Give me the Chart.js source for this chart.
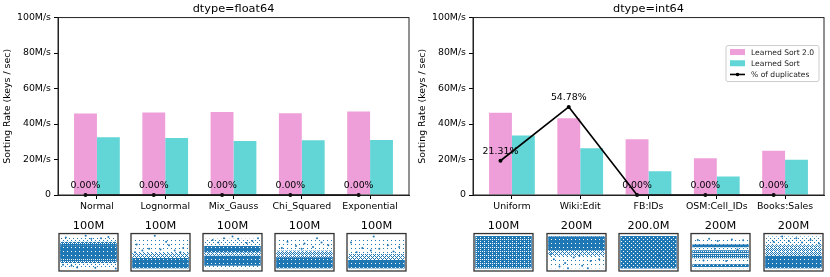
<!DOCTYPE html>
<html>
<head>
<meta charset="utf-8">
<script src="https://cdn.jsdelivr.net/npm/chart.js@4.4.0/dist/chart.umd.min.js"></script>
<style>
  body { margin: 0; background: #fff; }
  #wrap { position: relative; width: 830px; height: 277px; }
  #wrap canvas { position: absolute; }
</style>
</head>
<body>
<div id="wrap"></div>
<script>
// float64 panel
let floatLabels = ['Normal', 'Lognormal', 'Mix_Gauss', 'Chi_Squared', 'Exponential'];
let floatLS2 = [45.9, 46.5, 46.8, 46.1, 47.0];
let floatLS = [32.6, 32.1, 30.4, 30.8, 31.0];
let floatDup = [0, 0, 0, 0, 0];
let floatSizes = ['100M', '100M', '100M', '100M', '100M'];

// int64 panel
let intLabels = ['Uniform', 'Wiki:Edit', 'FB:IDs', 'OSM:Cell_IDs', 'Books:Sales'];
let intLS2 = [46.3, 43.3, 31.4, 20.7, 25.0];
let intLS = [33.6, 26.3, 13.4, 10.4, 19.9];
let intDup = [21.31, 54.78, 0, 0, 0];
let intSizes = ['100M', '200M', '200.0M', '200M', '200M'];

let yTicks = [0, 20, 40, 60, 80, 100];

// key distributions in the thumbnails: [low, high, density] bands (normalised key range)
let floatBands = [
  [[0.06, 0.92, 0.1], [0.2, 0.8, 0.65], [0.3, 0.7, 0.88]],
  [[0.05, 0.85, 0.06], [0.05, 0.48, 0.35], [0.05, 0.34, 0.88]],
  [[0.05, 0.88, 0.08], [0.5, 0.68, 0.88], [0.12, 0.4, 0.88], [0.4, 0.5, 0.35]],
  [[0.05, 0.85, 0.06], [0.05, 0.55, 0.4], [0.05, 0.35, 0.88]],
  [[0.05, 0.85, 0.06], [0.05, 0.45, 0.35], [0.05, 0.28, 0.88]]
];
let intBands = [
  [[0.04, 0.96, 0.8]],
  [[0.05, 0.95, 0.06], [0.4, 0.95, 0.35], [0.56, 0.95, 0.88]],
  [[0.04, 0.96, 0.85]],
  [[0.05, 0.9, 0.06], [0.64, 0.72, 0.88], [0.33, 0.45, 0.75], [0.47, 0.56, 0.75], [0.08, 0.16, 0.8]],
  [[0.05, 0.95, 0.1], [0.05, 0.7, 0.38], [0.05, 0.4, 0.88]]
];
// scattered outlier keys per thumbnail: [x, y]
let floatOutliers = [
  [[0.1, 0.92], [0.45, 0.97], [0.72, 0.9], [0.98, 0.04], [0.3, 0.07], [0.62, 0.06], [0.85, 0.93], [0.2, 0.12], [0.55, 0.88], [0.05, 0.15]],
  [[0.4, 0.97], [0.08, 0.72], [0.65, 0.7], [0.9, 0.62], [0.3, 0.6], [0.75, 0.55], [0.18, 0.55], [0.5, 0.58], [0.85, 0.5], [0.05, 0.5], [0.6, 0.8]],
  [[0.15, 0.85], [0.35, 0.9], [0.6, 0.88], [0.85, 0.82], [0.5, 0.95], [0.25, 0.78], [0.75, 0.76], [0.95, 0.9]],
  [[0.2, 0.8], [0.5, 0.75], [0.8, 0.78], [0.35, 0.68], [0.65, 0.65], [0.92, 0.7], [0.1, 0.62], [0.45, 0.6], [0.72, 0.9]],
  [[0.05, 0.78], [0.45, 0.95], [0.7, 0.7], [0.9, 0.65], [0.25, 0.62], [0.55, 0.6], [0.15, 0.5], [0.8, 0.52], [0.4, 0.55]]
];
let intOutliers = [
  [[0.2, 0.5], [0.5, 0.3], [0.8, 0.7]],
  [[0.1, 0.3], [0.3, 0.2], [0.45, 0.35], [0.6, 0.12], [0.75, 0.25], [0.9, 0.3], [0.2, 0.1], [0.7, 0.05], [0.05, 0.45], [0.55, 0.4], [0.35, 0.05]],
  [[0.3, 0.6], [0.7, 0.4]],
  [[0.1, 0.85], [0.3, 0.88], [0.45, 0.82], [0.7, 0.86], [0.9, 0.84], [0.2, 0.27], [0.6, 0.25], [0.4, 0.6], [0.8, 0.58]],
  [[0.3, 0.95], [0.55, 0.9], [0.8, 0.85], [0.95, 0.75], [0.15, 0.8], [0.65, 0.78], [0.42, 0.82]]
];

const PINK = '#EE9FD9';
const TEAL = '#62D5D6';
const BLUE = 'rgb(31,119,180)';
const BAR_W = 0.335; // matplotlib bar width, line points sit on the first bar

Chart.defaults.font.family = '"DejaVu Sans"';
Chart.defaults.color = '#000';
Chart.defaults.animation = false;

const wrap = document.getElementById('wrap');
function makeCanvas(x, y, w, h) {
  let c = document.createElement('canvas');
  c.width = w; c.height = h;
  c.style.left = x + 'px'; c.style.top = y + 'px';
  c.style.width = w + 'px'; c.style.height = h + 'px';
  wrap.appendChild(c);
  return c;
}

// ordered-dither texture so the thumbnail bands look like dense scatter
const BAYER = [[0, 8, 2, 10], [12, 4, 14, 6], [3, 11, 1, 9], [15, 7, 13, 5]];
function stipple(d) {
  let t = document.createElement('canvas');
  t.width = 4; t.height = 4;
  let g = t.getContext('2d');
  g.fillStyle = BLUE;
  for (let r = 0; r < 4; r++)
    for (let c = 0; c < 4; c++)
      if (BAYER[r][c] < d * 16) g.fillRect(c, r, 1, 1);
  return g.createPattern(t, 'repeat');
}

// box around the plot area (matplotlib spines)
let frame = {
  id: 'frame',
  afterDraw(chart, args, opts) {
    const a = chart.chartArea, ctx = chart.ctx;
    ctx.save();
    ctx.strokeStyle = opts.color || '#222';
    ctx.lineWidth = opts.width || 1;
    ctx.strokeRect(a.left, a.top, a.right - a.left, a.bottom - a.top);
    ctx.restore();
  }
};

// "xx.xx%" labels above the duplicate-line points
let dupLabels = {
  id: 'dupLabels',
  afterDraw(chart) {
    const meta = chart.getDatasetMeta(2), ctx = chart.ctx;
    const ds = chart.data.datasets[2];
    ctx.save();
    ctx.font = '9.4px "DejaVu Sans"';
    ctx.fillStyle = '#000';
    ctx.textAlign = 'center';
    ctx.textBaseline = 'middle';
    meta.data.forEach((pt, i) => {
      ctx.fillText(ds.data[i].y.toFixed(2) + '%', pt.x, pt.y - 9);
    });
    ctx.restore();
  }
};

// legend inside the int64 plot
let insetLegend = {
  id: 'insetLegend',
  afterDraw(chart, args, opts) {
    if (!opts.show) return;
    const a = chart.chartArea, ctx = chart.ctx;
    const w = 93, h = 36, left = a.right - 5 - w, top = a.top + 28;
    ctx.save();
    ctx.beginPath();
    ctx.roundRect(left, top, w, h, 2);
    ctx.fillStyle = 'rgba(255,255,255,0.8)';
    ctx.fill();
    ctx.strokeStyle = '#ccc';
    ctx.lineWidth = 1;
    ctx.stroke();
    ctx.font = '7.6px "DejaVu Sans"';
    ctx.textBaseline = 'middle';
    chart.data.datasets.forEach((ds, i) => {
      const cy = top + 6.5 + i * 11.2;
      if (ds.type === 'line') {
        ctx.strokeStyle = '#000';
        ctx.lineWidth = 1.6;
        ctx.beginPath();
        ctx.moveTo(left + 4, cy);
        ctx.lineTo(left + 19, cy);
        ctx.stroke();
        ctx.beginPath();
        ctx.arc(left + 11.5, cy, 1.8, 0, Math.PI * 2);
        ctx.fillStyle = '#000';
        ctx.fill();
      } else {
        ctx.fillStyle = ds.backgroundColor;
        ctx.fillRect(left + 4, cy - 3, 15, 6);
      }
      ctx.fillStyle = '#222';
      ctx.fillText(ds.label, left + 25, cy + 0.5);
    });
    ctx.restore();
  }
};

function mainChart(x, title, labels, ls2, ls, dup, showLegend) {
  let c = makeCanvas(x, 0, 415, 214);
  return new Chart(c, {
    type: 'bar',
    data: {
      datasets: [
        { label: 'Learned Sort 2.0', data: ls2.map((v, i) => ({ x: i, y: v })), backgroundColor: PINK,
          categoryPercentage: 2 * BAR_W, barPercentage: 1, order: 1 },
        { label: 'Learned Sort', data: ls.map((v, i) => ({ x: i, y: v })), backgroundColor: TEAL,
          categoryPercentage: 2 * BAR_W, barPercentage: 1, order: 1 },
        { type: 'line', label: '% of duplicates', data: dup.map((v, i) => ({ x: i - BAR_W / 2, y: v })), yAxisID: 'y2',
          borderColor: '#000', borderWidth: 1.6, pointRadius: 2, pointBackgroundColor: '#000',
          pointBorderWidth: 0, clip: false, order: 0 }
      ]
    },
    options: {
      responsive: false,
      animation: false,
      layout: { padding: { right: 6 } },
      plugins: {
        legend: { display: false },
        tooltip: { enabled: false },
        title: { display: true, text: title, fullSize: false, color: '#000',
          font: { size: 11.3, weight: 'normal' }, padding: { top: 2, bottom: 2 } },
        insetLegend: { show: showLegend }
      },
      scales: {
        x: {
          type: 'linear', min: -0.57, max: 4.57, offset: false,
          afterBuildTicks: s => { s.ticks = labels.map((l, i) => ({ value: i })); },
          ticks: { callback: v => labels[v], font: { size: 9.4 }, padding: 2, autoSkip: false, maxRotation: 0 },
          grid: { offset: false, drawOnChartArea: false, tickLength: 4, tickColor: '#000' },
          border: { color: '#222' },
          afterFit: s => { s.height = 19; }
        },
        y: {
          min: 0, max: 100,
          afterBuildTicks: s => { s.ticks = yTicks.map(v => ({ value: v })); },
          ticks: { callback: v => v === 0 ? '0' : v + 'M/s', font: { size: 9.4 }, padding: 3 },
          grid: { drawOnChartArea: false, tickLength: 4, tickColor: '#000' },
          border: { color: '#222' },
          title: { display: true, text: 'Sorting Rate (keys / sec)', font: { size: 9.4 }, padding: { top: 2, bottom: 0 } },
          afterFit: s => { s.width = 58; }
        },
        y2: { display: false, min: 0, max: 110.4 }
      }
    },
    plugins: [frame, dupLabels, insetLegend]
  });
}

function thumb(x, size, bands, pts) {
  let c = makeCanvas(x - 2, 216, 67, 61);
  return new Chart(c, {
    type: 'scatter',
    data: {
      datasets: bands.map(b => ({
        type: 'line', data: [{ x: 0, y: b[1] }, { x: 1, y: b[1] }], fill: { value: b[0] },
        backgroundColor: stipple(b[2]), borderWidth: 0, pointRadius: 0
      })).concat([{
        data: pts.map(p => ({ x: p[0], y: p[1] })), pointRadius: 1,
        backgroundColor: BLUE, borderWidth: 0
      }])
    },
    options: {
      responsive: false,
      animation: false,
      layout: { padding: { left: 2, right: 2, bottom: 6 } },
      plugins: {
        legend: { display: false },
        tooltip: { enabled: false },
        title: { display: true, text: size, color: '#000', font: { size: 11.3, weight: 'normal' },
          padding: { top: 3, bottom: 1 } },
        frame: { color: '#333', width: 1.3 }
      },
      scales: {
        x: { display: false, min: -0.02, max: 1.02 },
        y: { display: false, min: -0.03, max: 1.03 }
      }
    },
    plugins: [frame]
  });
}

mainChart(0, 'dtype=float64', floatLabels, floatLS2, floatLS, floatDup, false);
mainChart(415, 'dtype=int64', intLabels, intLS2, intLS, intDup, true);

floatSizes.forEach((s, i) => thumb(57.3 + 72 * i, s, floatBands[i], floatOutliers[i]));
intSizes.forEach((s, i) => thumb(472.3 + 72.3 * i, s, intBands[i], intOutliers[i]));
</script>
</body>
</html>
